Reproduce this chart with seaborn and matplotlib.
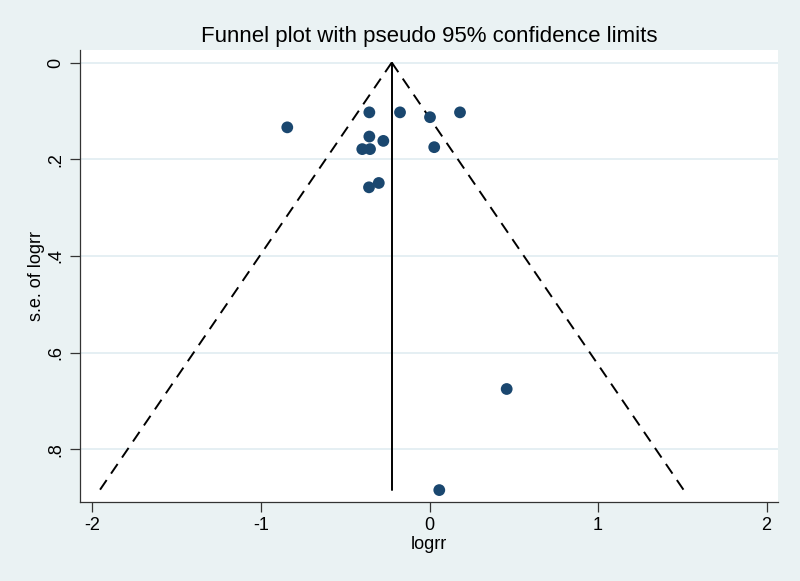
import numpy as np
import pandas as pd
import seaborn as sns
from matplotlib import pyplot as plt
from matplotlib.ticker import FixedLocator

# study estimates (log risk ratio) and their standard errors
logrr = [-0.844, -0.357, -0.175, 0.003, 0.181, -0.357, -0.274, -0.399,
         -0.353, 0.028, -0.301, -0.359, 0.458, 0.058]
se_logrr = [0.134, 0.103, 0.103, 0.113, 0.103, 0.153, 0.162, 0.179,
            0.179, 0.175, 0.249, 0.258, 0.675, 0.884]
pooled = -0.224  # fixed-effect pooled logrr

x_ticks = [-2, -1, 0, 1, 2]
y_ticks = [0, 0.2, 0.4, 0.6, 0.8]
y_tick_labels = ['0', '.2', '.4', '.6', '.8']

df = pd.DataFrame({'logrr': logrr, 'se': se_logrr})

# pseudo 95% limits
se_max = df['se'].max()
se_line = np.array([0, se_max])
funnel = pd.DataFrame({
    'se': np.concatenate([se_line, se_line]),
    'x': np.concatenate([pooled - 1.96 * se_line, pooled + 1.96 * se_line]),
    'side': ['lower'] * 2 + ['upper'] * 2,
})

sns.set_style('white')
plt.rcParams['font.family'] = ['Liberation Sans', 'DejaVu Sans']
plt.rcParams['text.color'] = 'black'
plt.rcParams['axes.labelcolor'] = 'black'
plt.rcParams['xtick.color'] = 'black'
plt.rcParams['ytick.color'] = 'black'

bg = '#eaf2f3'
fig = plt.figure(figsize=(8, 5.81), dpi=100, facecolor=bg)
ax = fig.add_axes([0.1, 0.136, 0.8725, 0.778])
ax.set_facecolor('white')

# gridlines
for t in y_ticks:
    ax.axhline(t, color='#e3eef2', lw=1.3, zorder=0)

sns.lineplot(data=funnel, x='x', y='se', units='side', estimator=None,
             color='black', lw=1.4, ax=ax, sort=False)
for line in ax.lines[len(y_ticks):]:
    line.set_dashes([6, 4])

ax.plot([pooled, pooled], [0, se_max], color='black', lw=1.4)

sns.scatterplot(data=df, x='logrr', y='se', color='#1a476f', s=72,
                edgecolor='none', ax=ax, zorder=5)

ax.set_xlim(-2.074, 2.068)
ax.set_ylim(0.9086, -0.026)

ax.xaxis.set_major_locator(FixedLocator(x_ticks))
ax.set_xticklabels([str(t) for t in x_ticks], fontsize=13)
ax.yaxis.set_major_locator(FixedLocator(y_ticks))
ax.set_yticklabels(y_tick_labels, fontsize=13, rotation=90, va='center')

ax.tick_params(axis='both', direction='out', length=7, width=0.9,
               color='#333333', pad=4, bottom=True, left=True)

for side in ['top', 'right']:
    ax.spines[side].set_visible(False)
for side in ['left', 'bottom']:
    ax.spines[side].set_color('#333333')
    ax.spines[side].set_linewidth(0.9)

ax.set_xlabel('logrr', fontsize=13, labelpad=1)
ax.set_ylabel('s.e. of logrr', fontsize=13, labelpad=2)
ax.set_title('Funnel plot with pseudo 95% confidence limits', fontsize=16, pad=6)

plt.savefig('out.png', dpi=100, facecolor=bg)
